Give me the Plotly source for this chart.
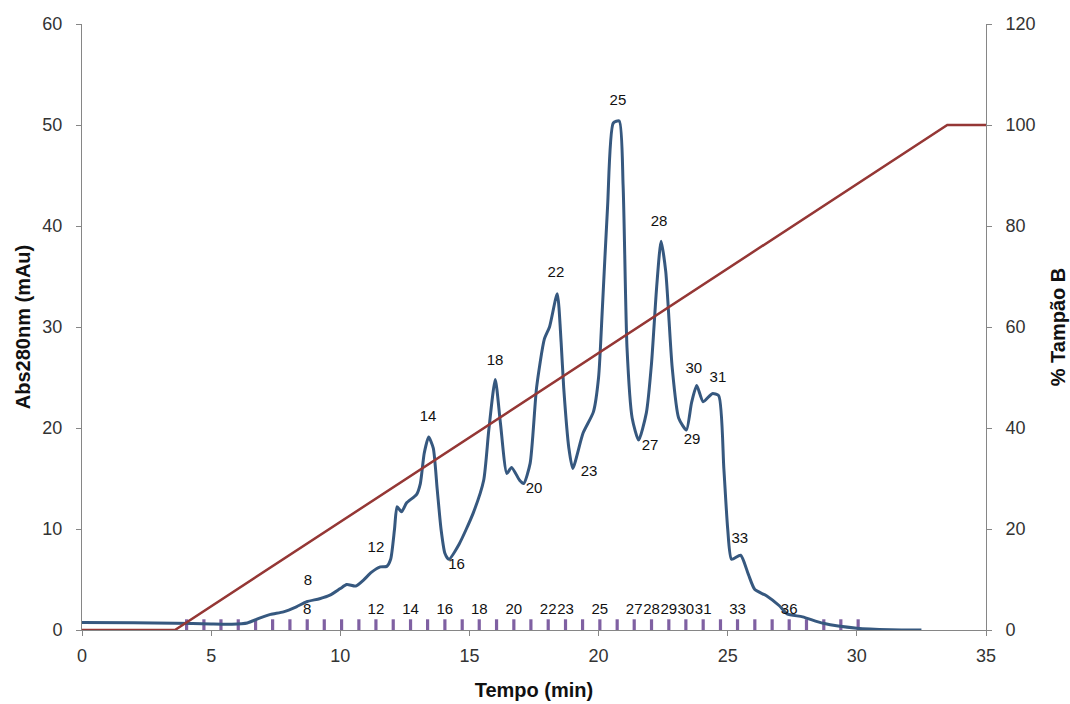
import plotly.graph_objects as go

# Chromatogram (Abs280nm, mAu) vs time (min)
time_min = [0, 2, 3.6, 5.0, 5.8, 6.4, 6.9, 7.3, 7.8, 8.3, 8.7, 9.2, 9.6, 10.0, 10.25, 10.6,
            10.9, 11.2, 11.55, 11.8, 11.95, 12.1, 12.2, 12.37, 12.57, 12.95, 13.1, 13.25,
            13.42, 13.6, 13.75, 13.9, 14.05, 14.2, 14.6, 15.15, 15.55, 15.75, 16.0, 16.2,
            16.45, 16.63, 16.95, 17.1, 17.35, 17.6, 17.9, 18.1, 18.4, 18.55, 18.65, 18.85,
            19.0, 19.4, 19.8, 20.0, 20.15, 20.35, 20.57, 20.8, 20.95, 21.1, 21.3, 21.55,
            21.85, 22.05, 22.25, 22.42, 22.6, 22.85, 23.1, 23.4, 23.6, 23.8, 24.05, 24.4,
            24.65, 24.85, 25.0, 25.15, 25.5, 25.8, 26.05, 26.5, 27.0, 27.3, 27.9, 28.7,
            30.0, 31.3, 32.5]
abs280 = [0.75, 0.72, 0.68, 0.6, 0.58, 0.7, 1.2, 1.55, 1.8, 2.3, 2.8, 3.1, 3.45, 4.1, 4.5, 4.35,
          4.95, 5.7, 6.25, 6.3, 7.0, 10.0, 12.2, 11.7, 12.6, 13.4, 14.5, 17.5,
          19.1, 18.0, 14.0, 10.0, 7.6, 7.0, 8.5, 11.6, 14.8, 19.8, 24.8, 20.5,
          15.5, 16.1, 14.8, 14.5, 16.5, 24.0, 28.8, 30.0, 33.3, 28.5, 24.0, 18.0,
          16.0, 19.5, 21.6, 25.0, 32.0, 42.0, 50.2, 50.4, 44.0, 28.0, 21.0, 18.8,
          21.5, 26.4, 34.0, 38.5, 35.5, 26.0, 21.0, 19.8, 22.5, 24.2, 22.6, 23.4,
          23.2, 16.0, 10.0, 7.0, 7.4, 5.5, 4.0, 3.4, 2.4, 1.6, 1.3, 0.66,
          0.17, 0.02, 0.0]

# Gradient (% Tampão B)
grad_time = [0, 3.6, 33.5, 35]
grad_pct = [0, 0, 100, 100]

# Fraction collection times (min)
fraction_numbers = list(range(1, 41))
fraction_times = [4.05, 4.72, 5.38, 6.05, 6.72, 7.38, 8.05, 8.72, 9.38, 10.05,
                  10.72, 11.38, 12.05, 12.72, 13.38, 14.05, 14.72, 15.38, 16.05, 16.72,
                  17.38, 18.05, 18.72, 19.38, 20.05, 20.72, 21.38, 22.05, 22.72, 23.38,
                  24.05, 24.72, 25.38, 26.05, 26.72, 27.38, 28.05, 28.72, 29.38, 30.05]
fraction_mark_height = 1.06
labelled_fractions = [8, 12, 14, 16, 18, 20, 22, 23, 25, 27, 28, 29, 30, 31, 33, 36]
fraction_label_y = 2.0

# Peak / valley labels on the curve
peak_labels = ["8", "12", "14", "16", "18", "20", "22", "23", "25", "27", "28", "29", "30", "31", "33"]
peak_label_x = [8.75, 11.38, 13.4, 14.5, 15.99, 17.5, 18.35, 19.63, 20.75, 21.99, 22.34, 23.62, 23.69, 24.62, 25.47]
peak_label_y = [4.85, 8.1, 21.1, 6.4, 26.6, 13.9, 35.3, 15.6, 52.4, 18.2, 40.4, 18.8, 25.8, 24.95, 9.0]

FONT = "Liberation Sans, Arial, sans-serif"

fig = go.Figure()

# fraction tick marks
mx, my = [], []
for t in fraction_times:
    mx += [t, t, None]
    my += [0, fraction_mark_height, None]
fig.add_trace(go.Scatter(x=mx, y=my, mode="lines", line=dict(color="#7F60A2", width=3.2),
                         hoverinfo="skip", showlegend=False))

# gradient line
fig.add_trace(go.Scatter(x=grad_time, y=grad_pct, mode="lines", yaxis="y2",
                         line=dict(color="#953735", width=2.5), showlegend=False))

# chromatogram
fig.add_trace(go.Scatter(x=time_min, y=abs280, mode="lines",
                         line=dict(color="#36587F", width=3, shape="spline", smoothing=0.6),
                         showlegend=False))

# fraction labels
fig.add_trace(go.Scatter(x=[fraction_times[n - 1] for n in labelled_fractions],
                         y=[fraction_label_y] * len(labelled_fractions),
                         mode="text", text=[str(n) for n in labelled_fractions],
                         textposition="middle center",
                         textfont=dict(family=FONT, size=15, color="#111111"),
                         showlegend=False, hoverinfo="skip"))

# peak labels
fig.add_trace(go.Scatter(x=peak_label_x, y=peak_label_y, mode="text", text=peak_labels,
                         textposition="middle center",
                         textfont=dict(family=FONT, size=15, color="#111111"),
                         showlegend=False, hoverinfo="skip"))

axis_common = dict(showgrid=False, zeroline=False, showline=True, linecolor="#868686",
                   linewidth=1, ticks="outside", ticklen=5, tickcolor="#868686", automargin=False,
                   tickfont=dict(family=FONT, size=18, color="#333333"))

fig.update_layout(
    width=1070, height=704,
    margin=dict(l=82, r=84, t=24, b=74),
    paper_bgcolor="white", plot_bgcolor="white",
    font=dict(family=FONT),
    xaxis=dict(range=[0, 35], tickvals=[0, 5, 10, 15, 20, 25, 30, 35], ticklabelstandoff=4,
               title=dict(text="<b>Tempo (min)</b>", font=dict(family=FONT, size=20, color="#111111"),
                          standoff=18),
               **axis_common),
    yaxis=dict(range=[0, 60], tickvals=[0, 10, 20, 30, 40, 50, 60], ticklabelstandoff=10,
               title=dict(text="<b>Abs280nm (mAu)</b>", font=dict(family=FONT, size=20, color="#111111"),
                          standoff=6),
               **axis_common),
    yaxis2=dict(range=[0, 120], tickvals=[0, 20, 40, 60, 80, 100, 120], overlaying="y", side="right",
                ticklabelstandoff=10,
                title=dict(text="<b>% Tampão B</b>", font=dict(family=FONT, size=20, color="#111111"),
                           standoff=16),
                **axis_common),
)

fig.write_html("out.html")
